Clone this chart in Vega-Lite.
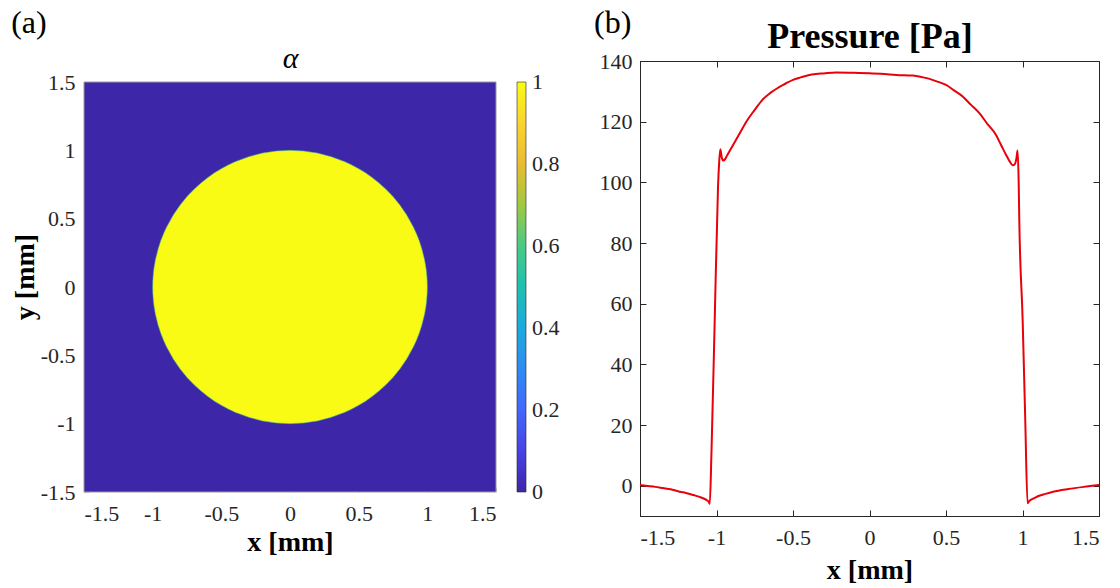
{
  "$schema": "https://vega.github.io/schema/vega-lite/v6.json",
  "padding": {"left": 11, "top": 6, "right": 5, "bottom": 2},
  "background": "white",
  "spacing": 12,
  "resolve": {"scale": {"color": "independent"}, "legend": {"color": "independent"}},
  "config": {
    "font": "Liberation Serif",
    "locale": {"number": {"decimal": ".", "thousands": ",", "grouping": [3], "currency": ["$", ""], "minus": "-"}},
    "axis": {
      "grid": false,
      "labelFont": "Liberation Serif",
      "labelFontSize": 22,
      "labelColor": "#262626",
      "titleFont": "Liberation Serif",
      "titleFontSize": 28,
      "titleFontWeight": "bold",
      "titleColor": "#000000",
      "tickSize": -6,
      "domainColor": "#262626",
      "tickColor": "#262626"
    },
    "title": {"font": "Liberation Serif", "fontWeight": "normal", "color": "#000000", "fontSize": 32},
    "legend": {"labelFont": "Liberation Serif"}
  },
  "hconcat": [
    {
      "width": 412,
      "height": 431,
      "title": {"text": "(a)", "anchor": "start", "frame": "bounds", "offset": 3},
      "view": {"stroke": null},
      "layer": [
        {
          "data": {"values": [{"xa": -1.5, "xb": 1.5, "ya": -1.5, "yb": 1.5, "alpha": 0}]},
          "mark": {"type": "rect", "stroke": "#9a9a9a", "strokeWidth": 1},
          "encoding": {
            "x": {"field": "xa", "type": "quantitative",
              "scale": {"domain": [-1.5, 1.5], "nice": false, "zero": false},
              "axis": {"title": "x [mm]", "values": [-1.5, -1, -0.5, 0, 0.5, 1, 1.5], "format": "~g", "labelPadding": 16, "titlePadding": 4, "domain": false, "tickColor": "#c8c8c8", "tickSize": -5}},
            "x2": {"field": "xb"},
            "y": {"field": "ya", "type": "quantitative",
              "scale": {"domain": [-1.5, 1.6537], "nice": false, "zero": false},
              "axis": {"title": "y [mm]", "values": [-1.5, -1, -0.5, 0, 0.5, 1, 1.5], "format": "~g", "labelPadding": 14, "titlePadding": 1, "domain": false, "tickColor": "#c8c8c8", "tickSize": -5}},
            "y2": {"field": "yb"},
            "color": {"field": "alpha", "type": "quantitative",
              "scale": {
                "domain": [0, 0.1, 0.2, 0.3, 0.4, 0.5, 0.6, 0.7, 0.8, 0.9, 1],
                "range": ["#3e26a8", "#4743e7", "#4367fd", "#2d8cf3", "#1caade", "#1ec0b2", "#47cb86", "#9fc942", "#eabb30", "#fad42e", "#f9fb15"],
                "interpolate": "rgb"
              },
              "legend": {
                "title": null,
                "orient": "right",
                "direction": "vertical",
                "gradientLength": 410,
                "gradientThickness": 9,
                "offset": 0,
                "padding": 21,
                "values": [0, 0.2, 0.4, 0.6, 0.8, 1],
                "format": "~g",
                "labelFontSize": 22,
                "labelColor": "#262626",
                "labelOffset": 6,
                "labelOverlap": false,
                "gradientStrokeColor": "#262626",
                "gradientStrokeWidth": 0.6,
                "encode": {"labels": {"update": {"baseline": {"value": "middle"}}}}
              }
            }
          }
        },
        {
          "data": {"values": [
            {"x": -1, "yt": 0, "yb": 0, "alpha": 1},
            {"x": -0.999, "yt": 0.0447, "yb": -0.0447, "alpha": 1},
            {"x": -0.995, "yt": 0.0999, "yb": -0.0999, "alpha": 1},
            {"x": -0.99, "yt": 0.1411, "yb": -0.1411, "alpha": 1},
            {"x": -0.98, "yt": 0.199, "yb": -0.199, "alpha": 1},
            {"x": -0.96, "yt": 0.28, "yb": -0.28, "alpha": 1},
            {"x": -0.94, "yt": 0.3412, "yb": -0.3412, "alpha": 1},
            {"x": -0.92, "yt": 0.3919, "yb": -0.3919, "alpha": 1},
            {"x": -0.9, "yt": 0.4359, "yb": -0.4359, "alpha": 1},
            {"x": -0.85, "yt": 0.5268, "yb": -0.5268, "alpha": 1},
            {"x": -0.8, "yt": 0.6, "yb": -0.6, "alpha": 1},
            {"x": -0.75, "yt": 0.6614, "yb": -0.6614, "alpha": 1},
            {"x": -0.7, "yt": 0.7141, "yb": -0.7141, "alpha": 1},
            {"x": -0.65, "yt": 0.7599, "yb": -0.7599, "alpha": 1},
            {"x": -0.6, "yt": 0.8, "yb": -0.8, "alpha": 1},
            {"x": -0.55, "yt": 0.8352, "yb": -0.8352, "alpha": 1},
            {"x": -0.5, "yt": 0.866, "yb": -0.866, "alpha": 1},
            {"x": -0.45, "yt": 0.893, "yb": -0.893, "alpha": 1},
            {"x": -0.4, "yt": 0.9165, "yb": -0.9165, "alpha": 1},
            {"x": -0.3, "yt": 0.9539, "yb": -0.9539, "alpha": 1},
            {"x": -0.2, "yt": 0.9798, "yb": -0.9798, "alpha": 1},
            {"x": -0.1, "yt": 0.995, "yb": -0.995, "alpha": 1},
            {"x": 0, "yt": 1, "yb": -1, "alpha": 1},
            {"x": 0.1, "yt": 0.995, "yb": -0.995, "alpha": 1},
            {"x": 0.2, "yt": 0.9798, "yb": -0.9798, "alpha": 1},
            {"x": 0.3, "yt": 0.9539, "yb": -0.9539, "alpha": 1},
            {"x": 0.4, "yt": 0.9165, "yb": -0.9165, "alpha": 1},
            {"x": 0.45, "yt": 0.893, "yb": -0.893, "alpha": 1},
            {"x": 0.5, "yt": 0.866, "yb": -0.866, "alpha": 1},
            {"x": 0.55, "yt": 0.8352, "yb": -0.8352, "alpha": 1},
            {"x": 0.6, "yt": 0.8, "yb": -0.8, "alpha": 1},
            {"x": 0.65, "yt": 0.7599, "yb": -0.7599, "alpha": 1},
            {"x": 0.7, "yt": 0.7141, "yb": -0.7141, "alpha": 1},
            {"x": 0.75, "yt": 0.6614, "yb": -0.6614, "alpha": 1},
            {"x": 0.8, "yt": 0.6, "yb": -0.6, "alpha": 1},
            {"x": 0.85, "yt": 0.5268, "yb": -0.5268, "alpha": 1},
            {"x": 0.9, "yt": 0.4359, "yb": -0.4359, "alpha": 1},
            {"x": 0.92, "yt": 0.3919, "yb": -0.3919, "alpha": 1},
            {"x": 0.94, "yt": 0.3412, "yb": -0.3412, "alpha": 1},
            {"x": 0.96, "yt": 0.28, "yb": -0.28, "alpha": 1},
            {"x": 0.98, "yt": 0.199, "yb": -0.199, "alpha": 1},
            {"x": 0.99, "yt": 0.1411, "yb": -0.1411, "alpha": 1},
            {"x": 0.995, "yt": 0.0999, "yb": -0.0999, "alpha": 1},
            {"x": 0.999, "yt": 0.0447, "yb": -0.0447, "alpha": 1},
            {"x": 1, "yt": 0, "yb": 0, "alpha": 1}
          ]},
          "mark": {"type": "area", "interpolate": "linear", "stroke": "#3fb59a", "strokeWidth": 1, "strokeOpacity": 0.55},
          "encoding": {
            "x": {"field": "x", "type": "quantitative",
              "axis": {"orient": "top", "title": "α", "labels": false, "ticks": false, "domain": false, "titleFontStyle": "italic", "titleFontWeight": "normal", "titleFontSize": 30, "titlePadding": -12}},
            "y": {"field": "yt", "type": "quantitative",
              "axis": {"title": "y [mm]", "values": [-1.5, -1, -0.5, 0, 0.5, 1, 1.5], "format": "~g", "labelPadding": 14, "titlePadding": 1, "domain": false, "tickColor": "#c8c8c8", "tickSize": -5}},
            "y2": {"field": "yb"},
            "color": {"field": "alpha", "type": "quantitative"}
          }
        }
      ],
      "resolve": {"axis": {"x": "independent"}}
    },
    {
      "width": 459,
      "height": 455,
      "title": {"text": "(b)", "anchor": "start", "frame": "bounds", "offset": -21, "dx": -5},
      "view": {"stroke": "#262626", "strokeWidth": 1},
      "data": {"values": [
        {"x": -1.5, "p": 0.2}, {"x": -1.45, "p": -0.1}, {"x": -1.4, "p": -0.4}, {"x": -1.35, "p": -0.8},
        {"x": -1.3, "p": -1.2}, {"x": -1.24, "p": -2.0}, {"x": -1.2, "p": -2.4}, {"x": -1.15, "p": -3.1},
        {"x": -1.1, "p": -3.9}, {"x": -1.066, "p": -4.7}, {"x": -1.05, "p": -5.4}, {"x": -1.044, "p": -6.0},
        {"x": -1.033, "p": 10.7}, {"x": -1.012, "p": 54}, {"x": -0.99, "p": 98.6}, {"x": -0.982, "p": 107},
        {"x": -0.975, "p": 110.9}, {"x": -0.966, "p": 108.3}, {"x": -0.957, "p": 107.2}, {"x": -0.948, "p": 107.4},
        {"x": -0.93, "p": 108.9}, {"x": -0.9, "p": 111.6}, {"x": -0.85, "p": 116.0}, {"x": -0.8, "p": 120.4},
        {"x": -0.75, "p": 123.9}, {"x": -0.7, "p": 127.2}, {"x": -0.65, "p": 129.4}, {"x": -0.6, "p": 131.1},
        {"x": -0.55, "p": 132.5}, {"x": -0.5, "p": 133.8}, {"x": -0.45, "p": 134.6}, {"x": -0.4, "p": 135.3},
        {"x": -0.35, "p": 135.7}, {"x": -0.3, "p": 135.9}, {"x": -0.22, "p": 136.2}, {"x": -0.1, "p": 136.1},
        {"x": 0, "p": 136.0}, {"x": 0.1, "p": 135.7}, {"x": 0.174, "p": 135.4}, {"x": 0.283, "p": 135.2},
        {"x": 0.35, "p": 134.6}, {"x": 0.392, "p": 134.1}, {"x": 0.45, "p": 133.1}, {"x": 0.5, "p": 132.1},
        {"x": 0.55, "p": 130.4}, {"x": 0.609, "p": 128.3}, {"x": 0.66, "p": 125.7}, {"x": 0.718, "p": 122.8},
        {"x": 0.77, "p": 119.3}, {"x": 0.827, "p": 115.6}, {"x": 0.86, "p": 112.3}, {"x": 0.893, "p": 109.0},
        {"x": 0.915, "p": 107.0}, {"x": 0.936, "p": 105.6}, {"x": 0.95, "p": 106.0}, {"x": 0.96, "p": 107.8},
        {"x": 0.968, "p": 110.5}, {"x": 0.975, "p": 100}, {"x": 0.979, "p": 87.6}, {"x": 1.001, "p": 54.6},
        {"x": 1.018, "p": 21.7}, {"x": 1.033, "p": -5.8}, {"x": 1.045, "p": -5.0}, {"x": 1.06, "p": -4.5},
        {"x": 1.08, "p": -4.0}, {"x": 1.1, "p": -3.5}, {"x": 1.15, "p": -2.7}, {"x": 1.2, "p": -2.0},
        {"x": 1.3, "p": -1.1}, {"x": 1.4, "p": -0.4}, {"x": 1.5, "p": 0.2}
      ]},
      "layer": [
        {
          "mark": {"type": "line", "color": "#e8000b", "strokeWidth": 2, "interpolate": "monotone"},
          "encoding": {
            "x": {"field": "x", "type": "quantitative",
              "scale": {"domain": [-1.5, 1.5], "nice": false, "zero": false},
              "axis": {"title": "x [mm]", "values": [-1.5, -1, -0.5, 0, 0.5, 1, 1.5], "format": "~g", "labelPadding": 17, "titlePadding": 8}},
            "y": {"field": "p", "type": "quantitative",
              "scale": {"domain": [-10, 140], "nice": false, "zero": false},
              "axis": {"title": null, "values": [0, 20, 40, 60, 80, 100, 120, 140], "format": "d", "labelPadding": 14}}
          }
        },
        {
          "mark": {"type": "line", "opacity": 0},
          "encoding": {
            "x": {"field": "x", "type": "quantitative",
              "axis": {"orient": "top", "title": "Pressure [Pa]", "titleFontSize": 36, "titlePadding": 5, "labels": false, "domain": false, "values": [-1.5, -1, -0.5, 0, 0.5, 1, 1.5]}},
            "y": {"field": "p", "type": "quantitative",
              "axis": {"orient": "right", "title": null, "labels": false, "domain": false, "values": [0, 20, 40, 60, 80, 100, 120, 140]}}
          }
        }
      ],
      "resolve": {"axis": {"x": "independent", "y": "independent"}}
    }
  ]
}
